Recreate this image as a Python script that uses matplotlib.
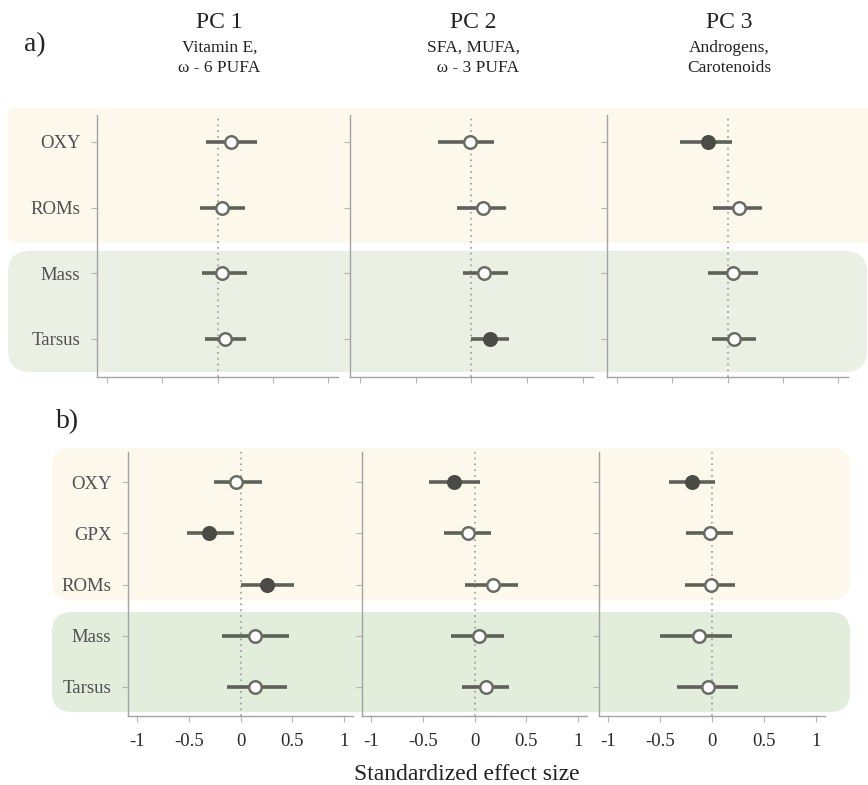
import numpy as np
import matplotlib.pyplot as plt
from matplotlib.patches import FancyBboxPatch
from matplotlib.transforms import IdentityTransform

plt.rcParams['font.family'] = ['Liberation Serif', 'DejaVu Serif']

W, H = 868, 785

pcs = ['PC 1', 'PC 2', 'PC 3']
pc_sub = ['Vitamin E,\n\u03c9 - 6 PUFA', 'SFA, MUFA,\n  \u03c9 - 3 PUFA', 'Androgens,\nCarotenoids']

# panel a
rows_a = ['OXY', 'ROMs', 'Mass', 'Tarsus']
a_est = [[0.12, 0.04, 0.04, 0.07],
         [-0.01, 0.10, 0.11, 0.17],
         [-0.18, 0.10, 0.05, 0.06]]
a_lo = [[-0.10, -0.16, -0.14, -0.11],
        [-0.30, -0.13, -0.08, 0.00],
        [-0.43, -0.13, -0.18, -0.14]]
a_hi = [[0.36, 0.25, 0.27, 0.26],
        [0.20, 0.31, 0.33, 0.34],
        [0.04, 0.31, 0.28, 0.26]]
a_sig = [[0, 0, 0, 0],
         [0, 0, 0, 1],
         [1, 0, 0, 0]]

# panel b
rows_b = ['OXY', 'GPX', 'ROMs', 'Mass', 'Tarsus']
b_est = [[-0.04, -0.31, 0.26, 0.14, 0.14],
         [-0.20, -0.06, 0.18, 0.04, 0.11],
         [-0.19, -0.02, -0.01, -0.13, -0.04]]
b_lo = [[-0.26, -0.52, 0.00, -0.18, -0.13],
        [-0.44, -0.30, -0.09, -0.23, -0.12],
        [-0.41, -0.25, -0.26, -0.50, -0.34]]
b_hi = [[0.21, -0.06, 0.52, 0.47, 0.45],
        [0.05, 0.16, 0.42, 0.29, 0.33],
        [0.03, 0.20, 0.22, 0.19, 0.25]]
b_sig = [[0, 1, 1, 0, 0],
         [1, 0, 0, 0, 0],
         [1, 0, 0, 0, 0]]

xticks = [-1, -0.5, 0, 0.5, 1]
xticklabels = ['-1', '-0.5', '0', '0.5', '1']

fig = plt.figure(figsize=(W / 100, H / 100), dpi=100)


def px_axes(x0, x1, y0, y1):
    # pixel box (top-left origin) -> figure axes
    ax = fig.add_axes([x0 / W, 1 - y1 / H, (x1 - x0) / W, (y1 - y0) / H])
    ax.set_facecolor('none')
    return ax


def band(x0, x1, y0, y1, color, r):
    p = FancyBboxPatch((x0, H - y1), x1 - x0, y1 - y0,
                       boxstyle='round,pad=0,rounding_size=%d' % r,
                       transform=IdentityTransform(), facecolor=color,
                       edgecolor='none', zorder=-5)
    fig.patches.append(p)


band(8, 890, 108, 243, '#fdf8ec', 6)
band(8, 867, 251, 372, '#eaf0e4', 22)
band(52, 850, 448, 600, '#fdf8ec', 18)
band(52, 850, 612, 712, '#e3eddb', 20)

line_c = '#5e6157'
edge_c = '#6a6d62'
fill_c = '#4b4b45'
spine_c = '#a3a3a3'


def forest(ax, rows, est, lo, hi, sig, ylim, show_labels, show_xt):
    n = len(rows)
    y = np.arange(n, 0, -1)
    ax.axvline(0, color='#9a9a9a', ls=(0, (1, 2.5)), lw=1.2, zorder=1)
    ax.hlines(y, lo, hi, color=line_c, lw=2.6, zorder=2)
    for yi, e, s in zip(y, est, sig):
        ax.plot(e, yi, 'o', ms=9, mew=1.8, mec=edge_c if not s else fill_c,
                mfc=fill_c if s else 'white', zorder=3)
    ax.set_xlim(-1.09, 1.09)
    ax.set_ylim(*ylim)
    for s in ['top', 'right']:
        ax.spines[s].set_visible(False)
    for s in ['left', 'bottom']:
        ax.spines[s].set_color(spine_c)
        ax.spines[s].set_linewidth(1.0)
    ax.set_yticks(y)
    ax.set_xticks(xticks)
    ax.tick_params(colors='#b5b5b5', length=4, width=0.8)
    if show_labels:
        ax.set_yticklabels(rows, fontsize=13.5, color='#505050')
        ax.tick_params(axis='y', pad=8)
    else:
        ax.set_yticklabels([])
    if show_xt:
        ax.set_xticklabels(xticklabels, fontsize=13.5, color='#2a2a2a')
        ax.tick_params(axis='x', labelcolor='#2a2a2a', pad=8)
    else:
        ax.set_xticklabels([])


a_boxes = [(97, 338), (350, 593), (607, 848)]
b_boxes = [(128, 353), (362, 587), (599, 825)]

for i in range(3):
    ax = px_axes(a_boxes[i][0], a_boxes[i][1], 115, 377)
    forest(ax, rows_a, a_est[i], a_lo[i], a_hi[i], a_sig[i], (0.42, 4.41), i == 0, False)
    cx = (a_boxes[i][0] + a_boxes[i][1]) / 2 + 2
    fig.text(cx / W, 1 - 22 / H, pcs[i], ha='center', va='center', fontsize=17, color='#222222')
    fig.text(cx / W, 1 - 58 / H, pc_sub[i], ha='center', va='center', fontsize=12.5,
             color='#222222', linespacing=1.35)

for i in range(3):
    ax = px_axes(b_boxes[i][0], b_boxes[i][1], 452, 716)
    forest(ax, rows_b, b_est[i], b_lo[i], b_hi[i], b_sig[i], (0.43, 5.59), i == 0, True)

fig.text(35 / W, 1 - 45 / H, 'a)', ha='center', va='center', fontsize=20, color='#222222')
fig.text(68 / W, 1 - 422 / H, 'b)', ha='center', va='center', fontsize=20, color='#222222')
fig.text(467 / W, 1 - 774 / H, 'Standardized effect size', ha='center', va='center',
         fontsize=17, color='#222222')

fig.savefig('out.png', dpi=100)
